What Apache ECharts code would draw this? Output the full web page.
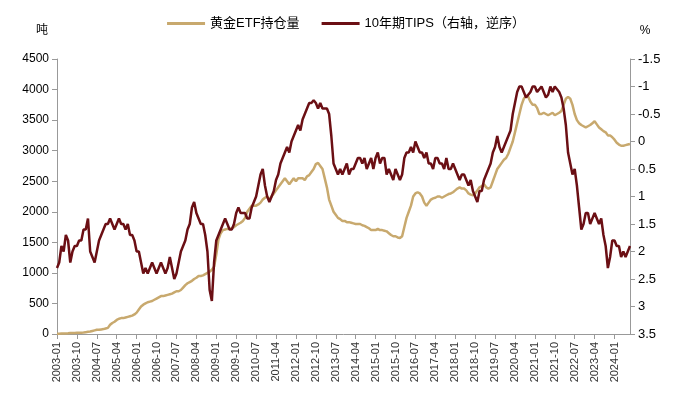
<!DOCTYPE html>
<html><head><meta charset="utf-8">
<script src="https://cdn.jsdelivr.net/npm/echarts@6/dist/echarts.min.js"></script>
<style>html,body{margin:0;background:#fff}#c{width:692px;height:410px}</style>
</head><body><div id="c"></div>
<script>
const startYear = 2003, endYear = 2024, endMonth = 8;
const goldETF = [
5,5,8,10,10,12,15,15,18,20,20,22,
25,30,35,40,50,60,70,70,75,80,90,100,
150,180,200,230,250,260,260,270,280,290,300,320,
350,400,450,480,500,520,530,540,560,580,600,620,
620,630,640,650,660,680,700,700,720,760,800,830,
850,870,900,920,950,950,960,980,1000,1020,1050,1100,
1300,1550,1650,1700,1710,1720,1720,1730,1750,1780,1800,1820,
1850,1900,2000,2050,2100,2100,2100,2120,2150,2200,2230,2250,
2200,2250,2300,2350,2400,2450,2500,2550,2500,2450,2500,2550,
2500,2550,2550,2550,2520,2580,2600,2650,2700,2780,2800,2750,
2700,2550,2400,2200,2100,2000,1950,1900,1880,1850,1850,1830,
1830,1820,1810,1800,1800,1800,1780,1770,1750,1730,1700,1700,
1700,1720,1700,1700,1690,1680,1650,1620,1600,1600,1580,1570,
1600,1750,1900,2000,2100,2250,2300,2320,2300,2250,2150,2100,
2150,2200,2220,2230,2250,2250,2230,2250,2270,2290,2300,2320,
2350,2380,2400,2380,2380,2350,2300,2280,2270,2300,2350,2400,
2420,2450,2400,2380,2400,2500,2600,2700,2750,2800,2850,2880,
2950,3050,3150,3300,3450,3600,3750,3850,3900,3880,3800,3750,
3750,3700,3600,3600,3620,3600,3580,3600,3620,3580,3600,3620,
3650,3750,3850,3880,3850,3750,3600,3500,3450,3420,3400,3380,
3400,3420,3450,3480,3430,3380,3350,3320,3300,3250,3250,3220,
3180,3130,3100,3080,3080,3090,3100,3110];
const tips10y = [
2.3,2.2,1.9,2.0,1.7,1.8,2.2,2.0,1.9,1.9,1.8,1.8,
1.6,1.6,1.4,2.0,2.1,2.2,2.0,1.8,1.7,1.6,1.5,1.5,
1.4,1.5,1.6,1.5,1.4,1.5,1.5,1.6,1.5,1.7,1.7,1.8,
2.0,2.0,2.2,2.4,2.3,2.4,2.3,2.2,2.3,2.4,2.3,2.2,
2.3,2.4,2.3,2.1,2.3,2.5,2.4,2.2,2.0,1.9,1.8,1.6,
1.5,1.2,1.1,1.3,1.4,1.5,1.5,1.7,2.0,2.7,2.9,2.2,
1.8,1.7,1.6,1.5,1.4,1.5,1.6,1.6,1.5,1.3,1.2,1.3,
1.3,1.3,1.4,1.4,1.2,1.1,1.0,0.8,0.6,0.5,0.8,1.0,
1.1,1.0,0.9,0.7,0.6,0.4,0.3,0.2,0.1,0.2,0.0,-0.1,
-0.2,-0.3,-0.2,-0.4,-0.5,-0.6,-0.7,-0.7,-0.75,-0.7,-0.6,-0.7,
-0.6,-0.6,-0.6,-0.5,-0.1,0.4,0.5,0.6,0.5,0.6,0.5,0.4,
0.6,0.5,0.5,0.4,0.3,0.3,0.4,0.3,0.5,0.4,0.3,0.5,
0.3,0.2,0.4,0.3,0.3,0.6,0.5,0.6,0.7,0.5,0.6,0.7,
0.6,0.3,0.2,0.2,0.1,0.2,0.0,0.1,0.2,0.2,0.3,0.2,
0.4,0.4,0.5,0.3,0.3,0.4,0.4,0.5,0.3,0.5,0.5,0.4,
0.5,0.6,0.7,0.6,0.6,0.7,0.8,0.7,0.9,1.0,1.1,0.9,
0.9,0.7,0.6,0.5,0.4,0.2,0.1,-0.1,0.1,0.2,0.1,0.0,
-0.1,-0.2,-0.5,-0.7,-0.9,-1.0,-1.0,-0.9,-0.8,-0.85,-0.9,-1.0,
-1.0,-0.9,-0.95,-1.0,-0.9,-0.8,-0.85,-1.0,-0.9,-1.0,-0.95,-0.9,
-0.8,-0.6,-0.3,0.2,0.4,0.6,0.5,0.8,1.2,1.6,1.5,1.3,
1.3,1.5,1.4,1.3,1.4,1.5,1.4,1.7,1.9,2.3,2.1,1.8,
1.8,1.9,1.9,2.1,2.0,2.1,2.0,1.9];
const months = [];
for (let y = startYear; y <= endYear; y++) for (let m = 1; m <= 12; m++) {
  if (y === endYear && m > endMonth) break;
  months.push(y + '-' + String(m).padStart(2, '0'));
}
const font = 'Arial, "Liberation Sans", "Noto Sans CJK SC"';
const chart = echarts.init(document.getElementById('c'));
chart.setOption({
  animation: false,
  textStyle: {fontFamily: font},
  legend: {top: 12, left: 'center', itemWidth: 38, itemHeight: 3, itemGap: 22,
    textStyle: {fontSize: 13, color: '#000', fontFamily: font},
    data: [{name: '黄金ETF持仓量', icon: 'rect'}, {name: '10年期TIPS（右轴，逆序）', icon: 'rect'}]},
  grid: {left: 57, right: 62, top: 59, bottom: 76},
  xAxis: {type: 'category', data: months, boundaryGap: false,
    axisLine: {lineStyle: {color: '#999'}}, axisTick: {interval: 8, lineStyle: {color: '#999'}},
    axisLabel: {interval: 8, rotate: 90, fontSize: 11, color: '#333'}},
  yAxis: [
    {type: 'value', min: 0, max: 4500, interval: 500, name: '吨', nameGap: 22,
     nameTextStyle: {color: '#000', fontSize: 12, padding: [0, 30, 0, 0]},
     axisLine: {show: true, lineStyle: {color: '#999'}}, axisTick: {show: true},
     axisLabel: {fontSize: 12, color: '#000', formatter: v => String(v)}, splitLine: {show: false}},
    {type: 'value', min: -1.5, max: 3.5, interval: 0.5, inverse: true, name: '%', nameLocation: 'start', nameGap: 22,
     nameTextStyle: {color: '#000', fontSize: 12, padding: [0, 0, 0, 30]},
     axisLine: {show: true, lineStyle: {color: '#999'}}, axisTick: {show: true},
     axisLabel: {fontSize: 13, color: '#000'}, splitLine: {show: false}}
  ],
  series: [
    {name: '黄金ETF持仓量', type: 'line', data: goldETF, yAxisIndex: 0, showSymbol: false,
     lineStyle: {color: '#c8a96e', width: 2.5}, itemStyle: {color: '#c8a96e'}},
    {name: '10年期TIPS（右轴，逆序）', type: 'line', data: tips10y, yAxisIndex: 1, showSymbol: false,
     lineStyle: {color: '#6b0f14', width: 2.5}, itemStyle: {color: '#6b0f14'}}
  ]
});
</script></body></html>
